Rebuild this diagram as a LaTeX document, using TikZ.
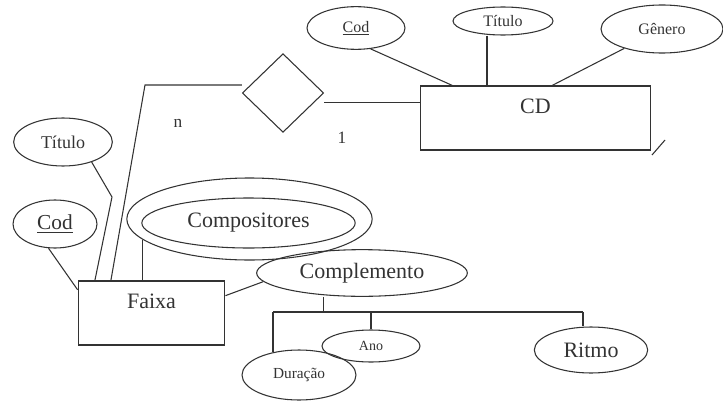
\documentclass[tikz,border=0pt]{standalone}
\usepackage{fontspec}
\setmainfont{Liberation Serif}
\usetikzlibrary{shapes.geometric, positioning}

\begin{document}
\begin{tikzpicture}[
  x=0.75pt, y=-0.75pt,
  line width=0.8pt, color=black!80,
  entity/.style={rectangle, draw, inner sep=0pt, line width=0.9pt},
  attr/.style={ellipse, draw, inner sep=0pt},
  rel/.style={diamond, draw, inner sep=0pt, minimum width=61pt, minimum height=59pt},
  big/.style={font=\fontsize{16.5pt}{19pt}\selectfont},
  small/.style={font=\fontsize{12pt}{14pt}\selectfont},
  tiny/.style={font=\fontsize{10.5pt}{12pt}\selectfont},
  card/.style={font=\fontsize{13pt}{15pt}\selectfont, inner sep=0pt},
]
  \useasboundingbox (0,0) rectangle (723,410);

  % CD side
  \node[entity, minimum width=172pt, minimum height=48pt,
        label={[anchor=center, label distance=-16pt, big]north:CD}] (cd) at (535.5,118) {};
  \node[attr, small, minimum width=73.5pt, minimum height=32pt] (cod1) at (356,28) {\underline{Cod}};
  \node[attr, small, minimum width=75pt, minimum height=21pt] (tit1) at (503,21) {Título};
  \node[attr, small, minimum width=91.5pt, minimum height=36pt] (gen) at (662,29) {Gênero};
  \node[rel] (dia) at (283,93) {};
  \node[card] (nn) at (178,123) {n};
  \node[card] (one) at (342,138) {1};

  % Faixa side
  \node[entity, minimum width=110pt, minimum height=48pt,
        label={[anchor=center, label distance=-16pt, big]north:Faixa}] (faixa) at (151.5,313) {};
  \node[attr, font=\fontsize{13.5pt}{16pt}\selectfont, minimum width=74pt, minimum height=36pt] (tit2) at (63,142) {Título};
  \node[attr, font=\fontsize{16pt}{18pt}\selectfont, minimum width=63pt, minimum height=36pt] (cod2) at (55,224) {\underline{Cod}};
  \node[attr, minimum width=184pt, minimum height=61.5pt] (comp) at (249.5,219) {};
  \node[attr, big, minimum width=160pt, minimum height=37.5pt] (compin) at (248.5,223) {Compositores};
  \node[attr, big, minimum width=158pt, minimum height=35pt] (compl) at (362,273) {Complemento};
  \node[attr, tiny, minimum width=73.5pt, minimum height=24pt] (ano) at (371,346) {Ano};
  \node[attr, font=\fontsize{11.5pt}{13pt}\selectfont, minimum width=85.5pt, minimum height=37.5pt] (dur) at (299,375) {Duração};
  \node[attr, big, minimum width=85pt, minimum height=34.5pt] (ritmo) at (591,350) {Ritmo};

  \coordinate (bend1) at (145,85);
  \coordinate (bend2) at (112,197);
  \coordinate (barL) at (273,312);
  \coordinate (barR) at (583,312);
  \coordinate (mk) at (652,155);

  \draw (cod1.-55) -- ([xshift=24pt]cd.north west);
  \draw ([xshift=-12pt]tit1.south) -- ([xshift=-12pt]tit1.south |- cd.north);
  \draw (gen) -- ([xshift=99pt]cd.north west);
  \draw ([yshift=-7pt]dia.east) -- ([yshift=-7pt]dia.east -| cd.west);
  \draw ([yshift=6pt]dia.west) -- (bend1) -- ([xshift=25pt]faixa.north west);
  \draw (tit2.-35) -- (bend2) -- ([xshift=13pt]faixa.north west);
  \draw (cod2.-105) -- ([yshift=-7pt]faixa.north west);
  \draw (comp.191) -- (comp.191 |- faixa.north);
  \draw ([yshift=13pt]faixa.east) -- (compl.185);
  \draw ([xshift=-29pt]compl.south) -- ([xshift=-29pt]compl.south |- barL);
  \draw (barL) -- (barR);
  \draw (barL) -- (barL |- dur.140);
  \draw (ano.north |- barL) -- (ano.north);
  \draw (barR) -- (barR |- ritmo.north);
  \draw (mk) -- ++(13,-15);
\end{tikzpicture}
\end{document}
